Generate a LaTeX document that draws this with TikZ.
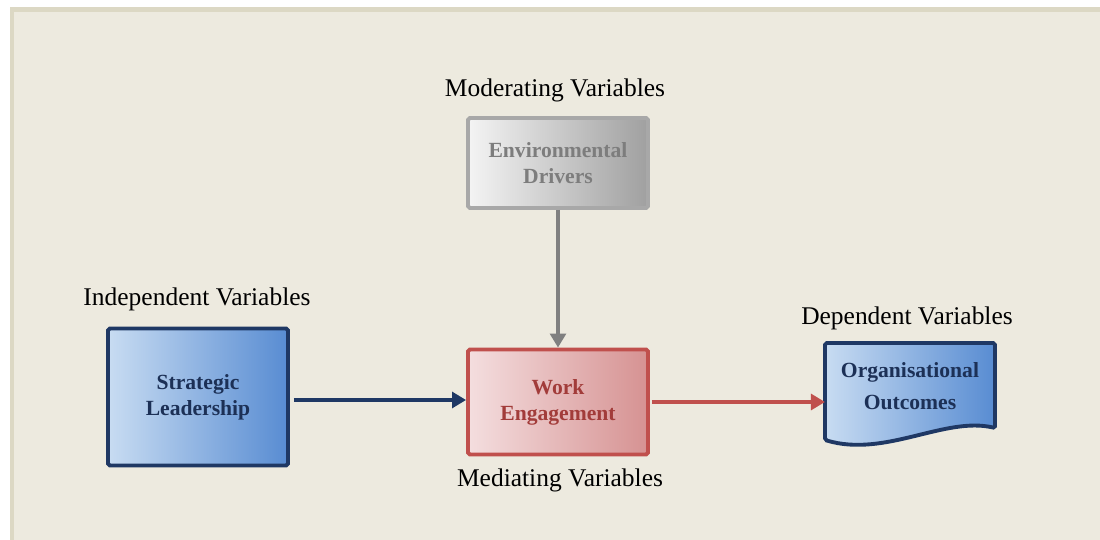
\documentclass[tikz,border=0pt]{standalone}
\usepackage{fontspec}
\setmainfont{Liberation Serif}
\usepackage{tikz}
\usetikzlibrary{arrows.meta,positioning,backgrounds}
\usepackage{xcolor}
\definecolor{panelbg}{RGB}{237,234,223}
\definecolor{panelrim}{RGB}{220,216,196}
\definecolor{ldblue}{RGB}{31,56,100}
\definecolor{ldlight}{RGB}{200,220,242}
\definecolor{lddark}{RGB}{88,140,210}
\definecolor{ldtext}{RGB}{28,48,86}
\definecolor{wered}{RGB}{192,80,77}
\definecolor{welight}{RGB}{244,222,223}
\definecolor{wedark}{RGB}{214,146,146}
\definecolor{wetext}{RGB}{162,60,58}
\definecolor{edgray}{RGB}{168,168,168}
\definecolor{edlight}{RGB}{244,244,244}
\definecolor{eddark}{RGB}{160,160,160}
\definecolor{edtext}{RGB}{125,125,125}
\definecolor{arrgray}{RGB}{128,128,128}
\tikzstyle{varlabel} = [font=\fontsize{14.5}{17}\selectfont, inner sep=0pt]
\tikzstyle{varbox} = [rectangle, minimum width=3.6cm, text centered, align=center, line width=2.2pt, rounded corners=1pt, font=\fontsize{12.3}{14.8}\selectfont\bfseries]
\tikzstyle{link} = [line width=2.4pt, -{Triangle[length=8pt,width=9pt]}]

\begin{document}
\begin{tikzpicture}[x=0.02cm, y=-0.02cm]
\useasboundingbox (0,0) rectangle (1100,540);
% Panel
\fill[panelrim] (10,7) rectangle (1100,540);
\fill[panelbg] (14,12) rectangle (1100,540);

% Boxes
\node[varbox, minimum height=1.8cm, draw=edgray, left color=edlight, right color=eddark, text=edtext] (envdrv) at (558,163) {Environmental\\Drivers};
\node[varbox, minimum height=2.74cm, draw=ldblue, left color=ldlight, right color=lddark, text=ldtext] (stratlead) at (198,397) {Strategic\\Leadership};
\node[varbox, minimum height=2.1cm, draw=wered, left color=welight, right color=wedark, text=wetext] (workeng) at (558,402) {Work\\Engagement};

% Document shape for outcomes
\path[left color=ldlight, right color=lddark, draw=ldblue, line width=2.2pt, rounded corners=1pt]
  (825,343) -- (995,343) -- (995,428)
  .. controls (945,416) and (885,458) .. (825,440) -- cycle;
\node[varbox, minimum width=3.4cm, minimum height=1.7cm, text=ldtext, font=\fontsize{12.3}{18}\selectfont\bfseries] (orgout) at (910,386) {Organisational\\Outcomes};

% Labels
\node[varlabel] (modlab) at (555,90) {Moderating Variables};
\node[varlabel] (indlab) at (197,299) {Independent Variables};
\node[varlabel] (medlab) at (560,480) {Mediating Variables};
\node[varlabel] (deplab) at (907,318) {Dependent Variables};

% Arrows
\draw[link, ldblue] (stratlead.east) ++(4,3) coordinate (slout) -- (slout -| workeng.west);
\draw[link, arrgray] (envdrv.south) -- (workeng.north);
\draw[link, wered] (workeng.east) ++(2,0) coordinate (weout) -- (825,402);
\end{tikzpicture}
\end{document}
